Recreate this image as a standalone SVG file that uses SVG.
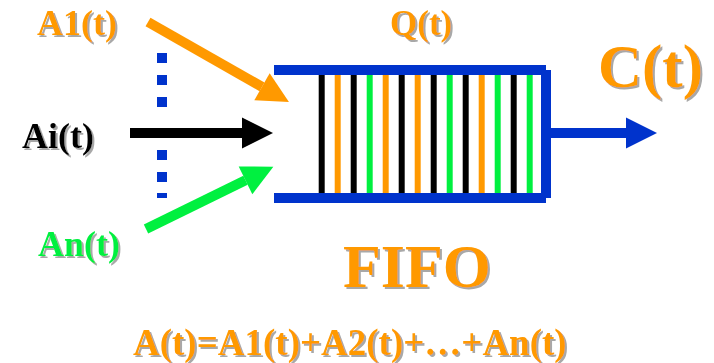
<svg xmlns="http://www.w3.org/2000/svg" width="714" height="363" viewBox="0 0 714 363">
  <style>
    .lbl { font-family: "Liberation Serif", "Times New Roman", serif; font-weight: bold; filter: url(#shadow); }
    .orange { fill: #FF9900; }
    .green { fill: #00F040; }
    .black { fill: #000000; }
    .blue { fill: #0033CC; }
    .conn { stroke-width: 10; fill: none; stroke-linecap: butt; }
    .stripe { stroke-width: 6; }
  </style>
  <defs>
    <filter id="shadow" x="-10%" y="-10%" width="130%" height="140%">
      <feDropShadow dx="2" dy="2" stdDeviation="0.6" flood-color="#a8a8a8" flood-opacity="1"/>
    </filter>
    <marker id="hOrange" markerUnits="userSpaceOnUse" markerWidth="32" markerHeight="32" refX="0" refY="15.5" orient="auto" overflow="visible">
      <path d="M0,0 L31,15.5 L0,31 Z" fill="#FF9900"/>
    </marker>
    <marker id="hBlack" markerUnits="userSpaceOnUse" markerWidth="32" markerHeight="32" refX="0" refY="15.5" orient="auto" overflow="visible">
      <path d="M0,0 L31,15.5 L0,31 Z" fill="#000000"/>
    </marker>
    <marker id="hGreen" markerUnits="userSpaceOnUse" markerWidth="32" markerHeight="32" refX="0" refY="15.5" orient="auto" overflow="visible">
      <path d="M0,0 L31,15.5 L0,31 Z" fill="#00F040"/>
    </marker>
    <marker id="hBlue" markerUnits="userSpaceOnUse" markerWidth="32" markerHeight="32" refX="0" refY="15.5" orient="auto" overflow="visible">
      <path d="M0,0 L31,15.5 L0,31 Z" fill="#0033CC"/>
    </marker>
  </defs>

  <g id="connectors">
    <line class="conn" x1="148" y1="22" x2="262" y2="86.8" stroke="#FF9900" marker-end="url(#hOrange)"/>
    <line class="conn" x1="130" y1="133" x2="242" y2="133" stroke="#000000" marker-end="url(#hBlack)"/>
    <line class="conn" x1="146" y1="229" x2="245.5" y2="180.3" stroke="#00F040" marker-end="url(#hGreen)"/>
    <line class="conn" x1="546" y1="133" x2="626" y2="133" stroke="#0033CC" marker-end="url(#hBlue)"/>
  </g>

  <g id="ellipsis" class="blue">
    <rect x="157" y="53" width="10" height="10"/>
    <rect x="157" y="75" width="10" height="10"/>
    <rect x="157" y="97" width="10" height="10"/>
    <rect x="157" y="150" width="10" height="10"/>
    <rect x="157" y="172" width="10" height="10"/>
    <rect x="157" y="193" width="10" height="5"/>
  </g>

  <g id="node-a1">
    <text class="lbl orange" x="37" y="35" font-size="36">A1(t)</text>
  </g>
  <g id="node-ai">
    <text class="lbl black" x="22" y="148" font-size="36">Ai(t)</text>
  </g>
  <g id="node-an">
    <text class="lbl green" x="38" y="256" font-size="36">An(t)</text>
  </g>

  <g id="node-queue">
    <text class="lbl orange" x="390" y="35" font-size="35">Q(t)</text>
    <g class="stripe">
      <line x1="321.7" y1="70" x2="321.7" y2="197" stroke="#000000"/>
      <line x1="337.7" y1="70" x2="337.7" y2="197" stroke="#FF9900"/>
      <line x1="353.7" y1="70" x2="353.7" y2="197" stroke="#000000"/>
      <line x1="369.7" y1="70" x2="369.7" y2="197" stroke="#00F040"/>
      <line x1="385.7" y1="70" x2="385.7" y2="197" stroke="#FF9900"/>
      <line x1="401.7" y1="70" x2="401.7" y2="197" stroke="#000000"/>
      <line x1="417.7" y1="70" x2="417.7" y2="197" stroke="#FF9900"/>
      <line x1="433.7" y1="70" x2="433.7" y2="197" stroke="#000000"/>
      <line x1="449.7" y1="70" x2="449.7" y2="197" stroke="#00F040"/>
      <line x1="465.7" y1="70" x2="465.7" y2="197" stroke="#000000"/>
      <line x1="481.7" y1="70" x2="481.7" y2="197" stroke="#FF9900"/>
      <line x1="497.7" y1="70" x2="497.7" y2="197" stroke="#00F040"/>
      <line x1="513.7" y1="70" x2="513.7" y2="197" stroke="#000000"/>
      <line x1="529.7" y1="70" x2="529.7" y2="197" stroke="#00F040"/>
    </g>
    <rect class="blue" x="274" y="65" width="272" height="10"/>
    <rect class="blue" x="274" y="193" width="272" height="10"/>
    <rect class="blue" x="541" y="70" width="10" height="128"/>
    <text class="lbl orange" x="343" y="287" font-size="62">FIFO</text>
  </g>

  <g id="node-c">
    <text class="lbl orange" x="598" y="87" font-size="61">C(t)</text>
  </g>

  <g id="formula">
    <text class="lbl orange" x="133" y="355" font-size="37">A(t)=A1(t)+A2(t)+…+An(t)</text>
  </g>
</svg>
